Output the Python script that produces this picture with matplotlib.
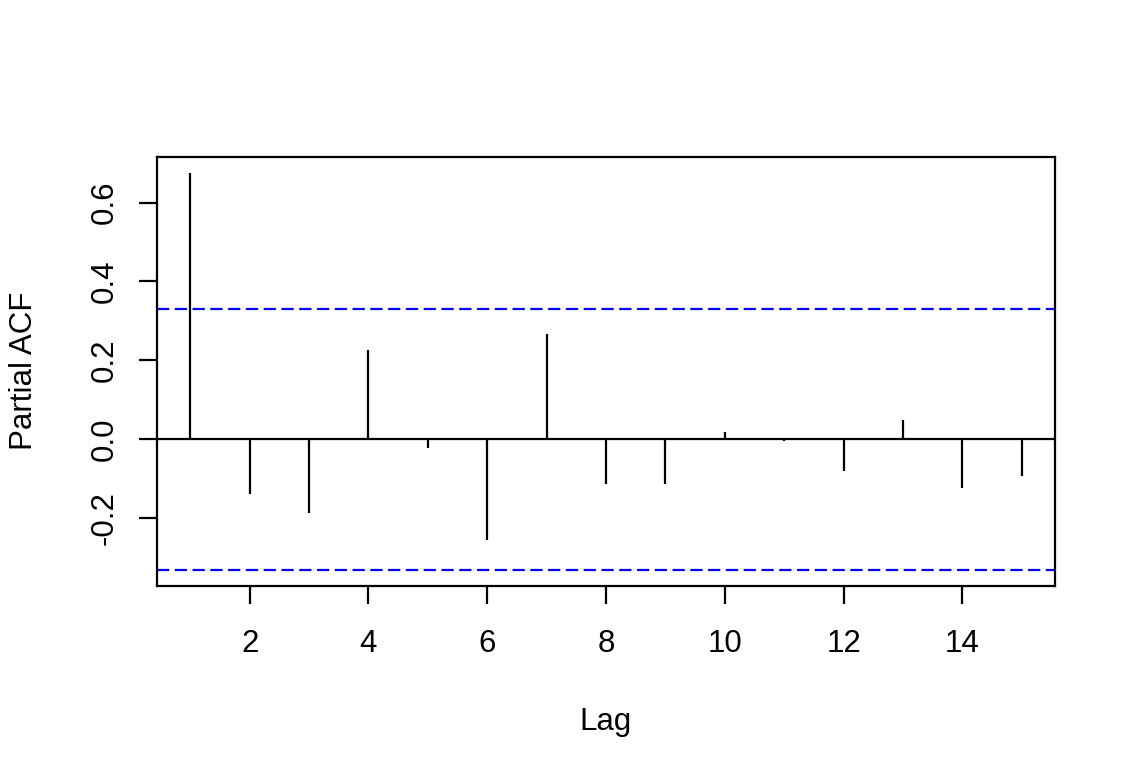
import matplotlib
matplotlib.use("Agg")
import matplotlib.pyplot as plt
import numpy as np

plt.rcParams['font.family'] = ['Liberation Sans', 'DejaVu Sans']

# partial autocorrelations
lags = [1, 2, 3, 4, 5, 6, 7, 8, 9, 10, 11, 12, 13, 14, 15]
pacf = [0.675, -0.139, -0.186, 0.227, -0.023, -0.254, 0.266, -0.114,
        -0.114, 0.020, -0.005, -0.081, 0.050, -0.122, -0.092]
ci = 0.331  # 1.96 / sqrt(n)

fig = plt.figure(figsize=(11.36, 7.82), dpi=100)
ax = fig.add_axes([157 / 1136, 1 - 586 / 782, 898 / 1136, 429 / 782])

ax.vlines(lags, 0, pacf, color='black', lw=1.6)
ax.axhline(0, color='black', lw=1.6)
ax.axhline(ci, color='#0000ff', lw=1.6, ls=(0, (5.5, 2.5)))
ax.axhline(-ci, color='#0000ff', lw=1.6, ls=(0, (5.5, 2.5)))

# R style 4% padding of the data range
lo = min(-ci, min(pacf))
hi = max(ci, max(pacf))
pad = (hi - lo) * 0.04
ax.set_ylim(lo - pad, hi + pad)
xpad = (max(lags) - min(lags)) * 0.04
ax.set_xlim(min(lags) - xpad, max(lags) + xpad)

ax.set_xticks([2, 4, 6, 8, 10, 12, 14])
ax.set_yticks([-0.2, 0.0, 0.2, 0.4, 0.6])
ax.set_yticklabels(['-0.2', '0.0', '0.2', '0.4', '0.6'], rotation=90, va='center')
ax.tick_params(axis='both', length=13, width=1.6, labelsize=22.5)
ax.tick_params(axis='x', pad=18)
ax.tick_params(axis='y', pad=14)

for s in ax.spines.values():
    s.set_linewidth(1.6)

fig.text(606 / 1136, 1 - 722 / 782, 'Lag', ha='center', va='center', fontsize=22.5)
fig.text(24 / 1136, 1 - 371 / 782, 'Partial ACF', ha='center', va='center',
         rotation=90, fontsize=22.5)

fig.savefig('out.png', dpi=100)
